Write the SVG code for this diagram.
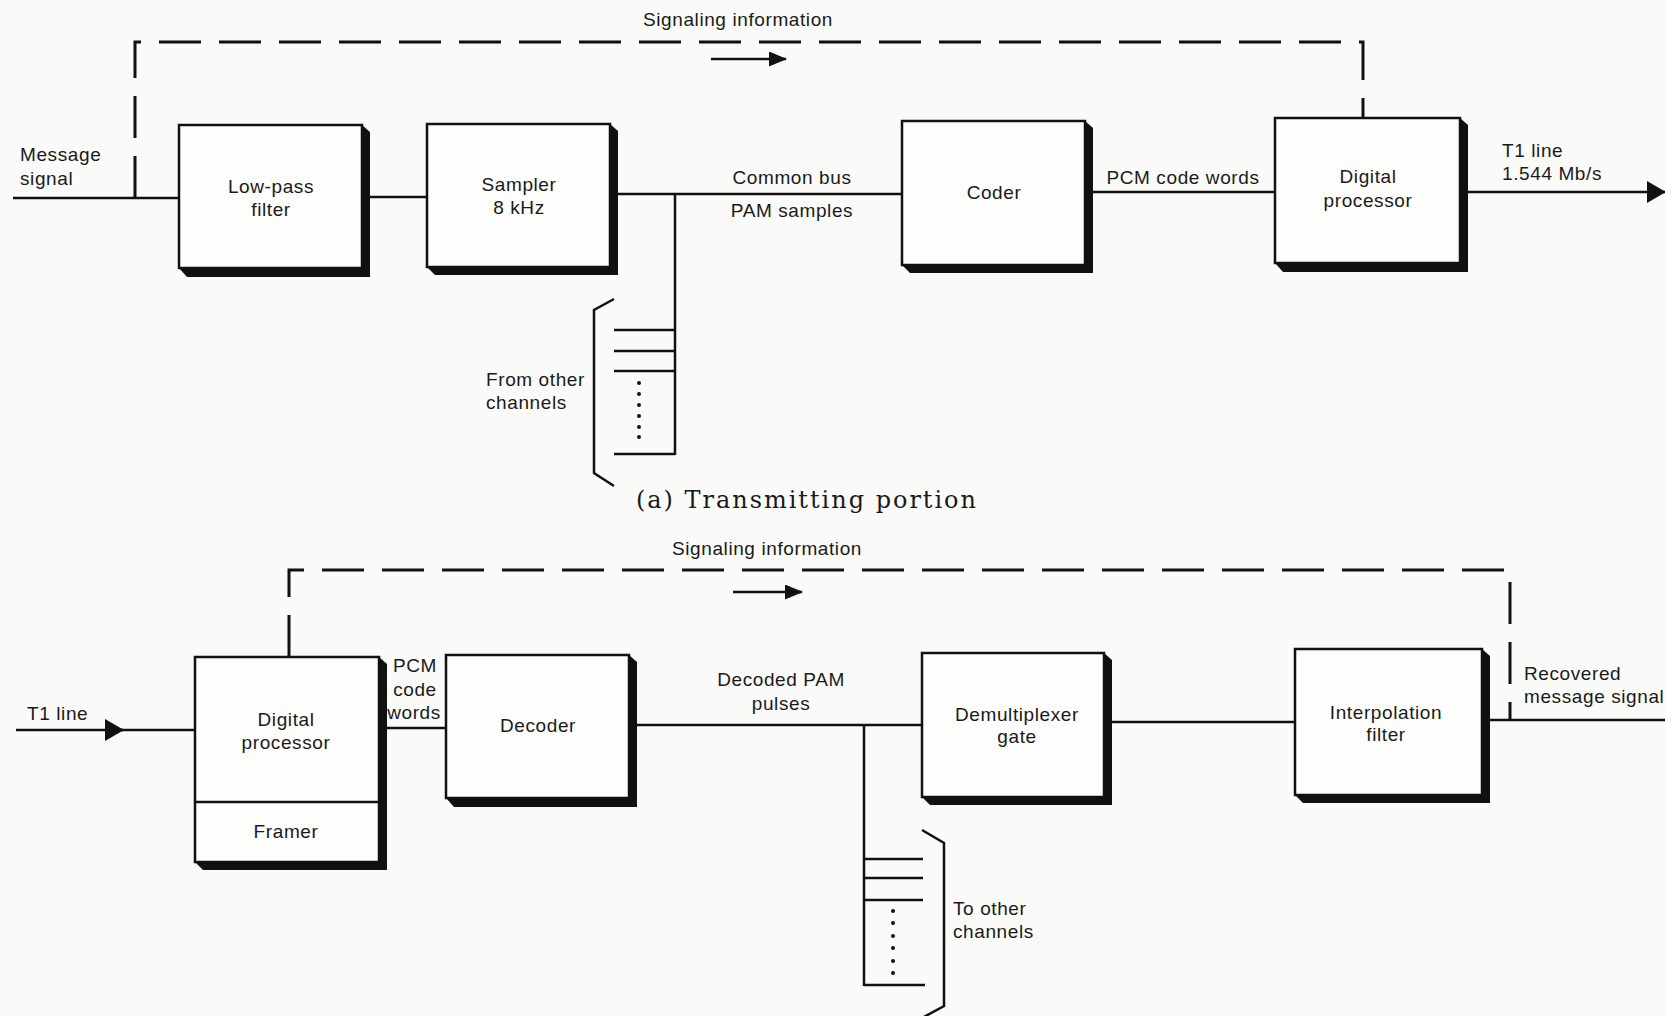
<svg xmlns="http://www.w3.org/2000/svg" width="1665" height="1016" viewBox="0 0 1665 1016">
<style>
.bg{fill:#fafaf8}
.box{fill:#fdfdfc;stroke:#111;stroke-width:2.5}
.sh{fill:#111}
.ln{fill:none;stroke:#111;stroke-width:2.5}
.dash{fill:none;stroke:#111;stroke-width:3;stroke-dasharray:42 18}
.t{font-family:"Liberation Sans",Arial,sans-serif;font-size:19px;letter-spacing:0.6px;fill:#1a1a1a}
.c{text-anchor:middle}
.cap{font-family:"DejaVu Serif","Liberation Serif",serif;font-size:24px;fill:#1a1a1a}
.dot{fill:#111}
</style>
<defs>
<marker id="big" markerUnits="userSpaceOnUse" markerWidth="19" markerHeight="22" refX="18" refY="11" orient="auto"><path d="M0,0 L19,11 L0,22 z" fill="#111"/></marker>
<marker id="small" markerUnits="userSpaceOnUse" markerWidth="18" markerHeight="15" refX="17" refY="7.5" orient="auto"><path d="M0,0 L18,7.5 L0,15 z" fill="#111"/></marker>
</defs>
<rect class="bg" x="0" y="0" width="1665" height="1016"/>

<g id="connectors">
<!-- transmitting -->
<line class="ln" x1="13" y1="198" x2="179" y2="198"/>
<line class="ln" x1="362" y1="197" x2="427" y2="197"/>
<line class="ln" x1="610" y1="194" x2="902" y2="194"/>
<line class="ln" x1="675" y1="194" x2="675" y2="455"/>
<line class="ln" x1="614" y1="330" x2="675" y2="330"/>
<line class="ln" x1="614" y1="351" x2="675" y2="351"/>
<line class="ln" x1="614" y1="371" x2="675" y2="371"/>
<line class="ln" x1="614" y1="454" x2="675" y2="454"/>
<path class="ln" d="M614,299 L594,310 L594,473 L614,486"/>
<line class="ln" x1="1085" y1="192" x2="1275" y2="192"/>
<line class="ln" x1="1460" y1="192" x2="1665" y2="192" marker-end="url(#big)"/>
<path class="dash" d="M135,198 L135,42 L1363,42 L1363,118"/>
<line class="ln" x1="711" y1="59" x2="786" y2="59" marker-end="url(#small)"/>
<!-- receiving -->
<line class="ln" x1="16" y1="730" x2="123" y2="730" marker-end="url(#big)"/>
<line class="ln" x1="120" y1="730" x2="195" y2="730"/>
<line class="ln" x1="379" y1="728" x2="446" y2="728"/>
<line class="ln" x1="629" y1="725" x2="922" y2="725"/>
<line class="ln" x1="864" y1="725" x2="864" y2="986"/>
<line class="ln" x1="864" y1="859" x2="923" y2="859"/>
<line class="ln" x1="864" y1="878" x2="923" y2="878"/>
<line class="ln" x1="864" y1="900" x2="923" y2="900"/>
<line class="ln" x1="864" y1="985" x2="925" y2="985"/>
<path class="ln" d="M922,830 L944,843 L944,1006 L922,1018"/>
<line class="ln" x1="1104" y1="722" x2="1295" y2="722"/>
<line class="ln" x1="1482" y1="720" x2="1665" y2="720"/>
<path class="dash" d="M289,657 L289,570 L1510,570 L1510,720"/>
<line class="ln" x1="733" y1="592" x2="802" y2="592" marker-end="url(#small)"/>
</g>

<g id="dots">
<circle class="dot" cx="639" cy="383" r="2"/><circle class="dot" cx="639" cy="394" r="2"/><circle class="dot" cx="639" cy="405" r="2"/><circle class="dot" cx="639" cy="416" r="2"/><circle class="dot" cx="639" cy="427" r="2"/><circle class="dot" cx="639" cy="437" r="2"/>
<circle class="dot" cx="893" cy="911" r="2"/><circle class="dot" cx="893" cy="923" r="2"/><circle class="dot" cx="893" cy="936" r="2"/><circle class="dot" cx="893" cy="948" r="2"/><circle class="dot" cx="893" cy="961" r="2"/><circle class="dot" cx="893" cy="973" r="2"/>
</g>

<g id="lpf">
<path class="sh" d="M362,125 L370,132 L370,277 L187,277 L179,268 Z"/>
<rect class="box" x="179" y="125" width="183" height="143"/>
<text class="t c" x="271" y="193">Low-pass</text>
<text class="t c" x="271" y="216">filter</text>
</g>
<g id="sampler">
<path class="sh" d="M610,124 L618,131 L618,275 L435,275 L427,267 Z"/>
<rect class="box" x="427" y="124" width="183" height="143"/>
<text class="t c" x="519" y="191">Sampler</text>
<text class="t c" x="519" y="214">8 kHz</text>
</g>
<g id="coder">
<path class="sh" d="M1085,121 L1093,128 L1093,273 L910,273 L902,265 Z"/>
<rect class="box" x="902" y="121" width="183" height="144"/>
<text class="t c" x="994" y="199">Coder</text>
</g>
<g id="dp-tx">
<path class="sh" d="M1460,118 L1468,125 L1468,272 L1283,272 L1275,263 Z"/>
<rect class="box" x="1275" y="118" width="185" height="145"/>
<text class="t c" x="1368" y="183">Digital</text>
<text class="t c" x="1368" y="207">processor</text>
</g>

<g id="dp-rx">
<path class="sh" d="M379,657 L387,664 L387,870 L203,870 L195,862 Z"/>
<rect class="box" x="195" y="657" width="184" height="205"/>
<line class="ln" x1="195" y1="802" x2="379" y2="802"/>
<text class="t c" x="286" y="726">Digital</text>
<text class="t c" x="286" y="749">processor</text>
<text class="t c" x="286" y="838">Framer</text>
</g>
<g id="decoder">
<path class="sh" d="M629,655 L637,662 L637,807 L454,807 L446,798 Z"/>
<rect class="box" x="446" y="655" width="183" height="143"/>
<text class="t c" x="538" y="732">Decoder</text>
</g>
<g id="demux">
<path class="sh" d="M1104,653 L1112,660 L1112,805 L930,805 L922,797 Z"/>
<rect class="box" x="922" y="653" width="182" height="144"/>
<text class="t c" x="1017" y="721">Demultiplexer</text>
<text class="t c" x="1017" y="743">gate</text>
</g>
<g id="interp">
<path class="sh" d="M1482,649 L1490,656 L1490,803 L1303,803 L1295,795 Z"/>
<rect class="box" x="1295" y="649" width="187" height="146"/>
<text class="t c" x="1386" y="719">Interpolation</text>
<text class="t c" x="1386" y="741">filter</text>
</g>

<g id="labels">
<text class="t" x="20" y="161">Message</text>
<text class="t" x="20" y="185">signal</text>
<text class="t c" x="738" y="26">Signaling information</text>
<text class="t c" x="792" y="184">Common bus</text>
<text class="t c" x="792" y="217">PAM samples</text>
<text class="t c" x="1183" y="184">PCM code words</text>
<text class="t" x="1502" y="157">T1 line</text>
<text class="t" x="1502" y="180">1.544 Mb/s</text>
<text class="t" x="486" y="386">From other</text>
<text class="t" x="486" y="409">channels</text>
<text class="cap" x="636" y="508" textLength="340" lengthAdjust="spacing">(a)  Transmitting portion</text>
<text class="t c" x="767" y="555">Signaling information</text>
<text class="t" x="27" y="720">T1 line</text>
<text class="t c" x="415" y="672">PCM</text>
<text class="t c" x="415" y="696">code</text>
<text class="t c" x="414" y="719">words</text>
<text class="t c" x="781" y="686">Decoded PAM</text>
<text class="t c" x="781" y="710">pulses</text>
<text class="t" x="1524" y="680">Recovered</text>
<text class="t" x="1524" y="703">message signal</text>
<text class="t" x="953" y="915">To other</text>
<text class="t" x="953" y="938">channels</text>
</g>
</svg>
